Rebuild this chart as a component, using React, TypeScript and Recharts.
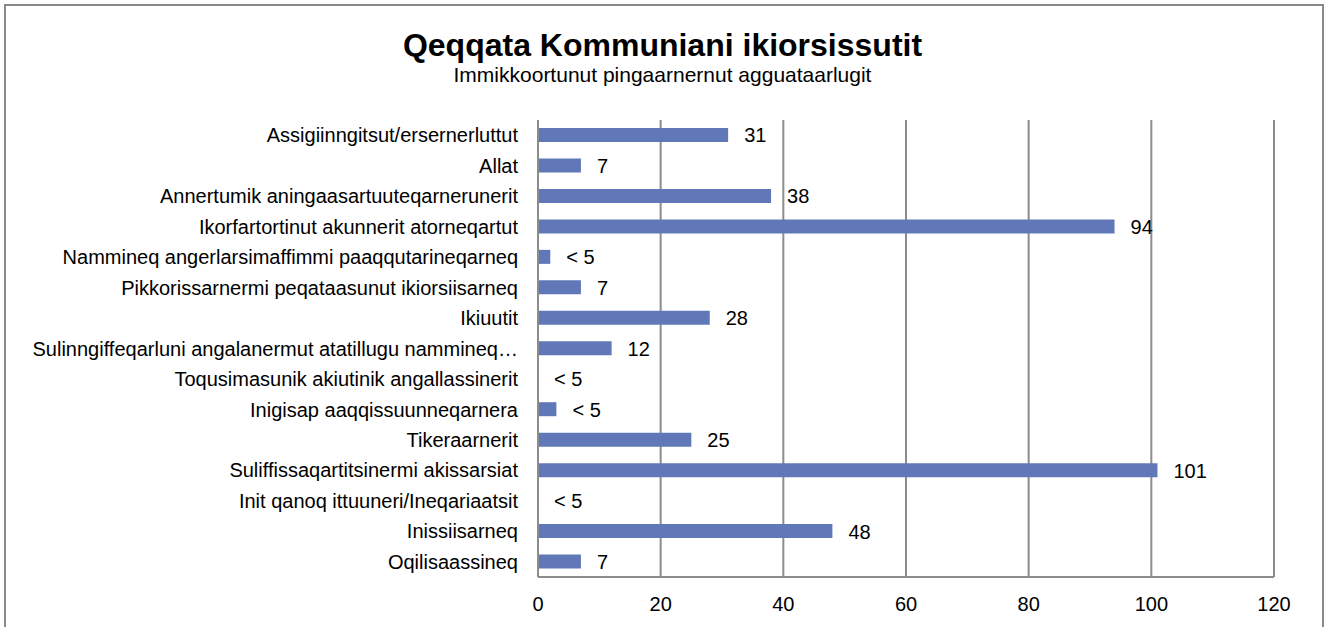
import { ComposedChart, Bar, Scatter, XAxis, YAxis, CartesianGrid } from 'recharts';

const categories = [
  'Assigiinngitsut/ersernerluttut',
  'Allat',
  'Annertumik aningaasartuuteqarnerunerit',
  'Ikorfartortinut akunnerit atorneqartut',
  'Nammineq angerlarsimaffimmi paaqqutarineqarneq',
  'Pikkorissarnermi peqataasunut ikiorsiisarneq',
  'Ikiuutit',
  'Sulinngiffeqarluni angalanermut atatillugu nammineq…',
  'Toqusimasunik akiutinik angallassinerit',
  'Inigisap aaqqissuunneqarnera',
  'Tikeraarnerit',
  'Suliffissaqartitsinermi akissarsiat',
  'Init qanoq ittuuneri/Ineqariaatsit',
  'Inissiisarneq',
  'Oqilisaassineq',
];

// values under 5 are shown as "< 5" in the source
const counts = [31, 7, 38, 94, 2, 7, 28, 12, 0, 3, 25, 101, 0, 48, 7];

const xTicks = [0, 20, 40, 60, 80, 100, 120];

const data = categories.map((name, i) => ({ name, value: counts[i] }));

const FONT = '"Liberation Sans", Arial, sans-serif';
const GRID = '#8c8c8c';

// drawn through a scatter series so the zero-value rows still get a label
function ValueLabel(props: any) {
  const { cx, cy, payload } = props;
  const v = Number(payload?.value);
  const text = v < 5 ? '< 5' : String(v);
  return (
    <text
      x={Number(cx) + 16}
      y={Number(cy)}
      dy="0.36em"
      fill="#000"
      fontSize={20}
      fontFamily={FONT}
      textAnchor="start"
    >
      {text}
    </text>
  );
}

export default function App() {
  return (
    <div
      style={{
        position: 'absolute',
        left: 0,
        top: 0,
        width: 1325,
        height: 627,
        overflow: 'hidden',
        background: '#fff',
        fontFamily: FONT,
      }}
    >
      <div
        style={{
          position: 'absolute',
          left: 4,
          top: 4,
          width: 1316,
          height: 640,
          border: '2px solid #888',
        }}
      />
      <div
        style={{
          position: 'absolute',
          left: 0,
          top: 27,
          width: 1325,
          textAlign: 'center',
          fontSize: 32,
          lineHeight: '37px',
          fontWeight: 'bold',
          color: '#000',
        }}
      >
        Qeqqata Kommuniani ikiorsissutit
      </div>
      <div
        style={{
          position: 'absolute',
          left: 0,
          top: 63,
          width: 1325,
          textAlign: 'center',
          fontSize: 21,
          lineHeight: '24px',
          color: '#000',
        }}
      >
        Immikkoortunut pingaarnernut agguataarlugit
      </div>
      <div style={{ position: 'absolute', left: 0, top: 0 }}>
        <ComposedChart
          layout="vertical"
          width={1325}
          height={627}
          data={data}
          margin={{ top: 120, right: 51, bottom: 20, left: 0 }}
        >
          <CartesianGrid horizontal={false} stroke={GRID} strokeWidth={2} />
          <XAxis
            type="number"
            dataKey="value"
            domain={[0, 120]}
            ticks={xTicks}
            interval={0}
            height={30}
            tickLine={false}
            tickSize={0}
            tickMargin={20}
            axisLine={{ stroke: GRID, strokeWidth: 2 }}
            tick={{ fill: '#000', fontSize: 20, fontFamily: FONT }}
          />
          <YAxis
            type="category"
            dataKey="name"
            width={538}
            interval={0}
            tickLine={false}
            tickSize={0}
            tickMargin={20}
            axisLine={{ stroke: GRID, strokeWidth: 2 }}
            tick={{ fill: '#000', fontSize: 20, fontFamily: FONT }}
          />
          <Bar dataKey="value" fill="#6078b8" barSize={14} isAnimationActive={false} />
          <Scatter dataKey="value" shape={ValueLabel} isAnimationActive={false} />
        </ComposedChart>
      </div>
    </div>
  );
}
